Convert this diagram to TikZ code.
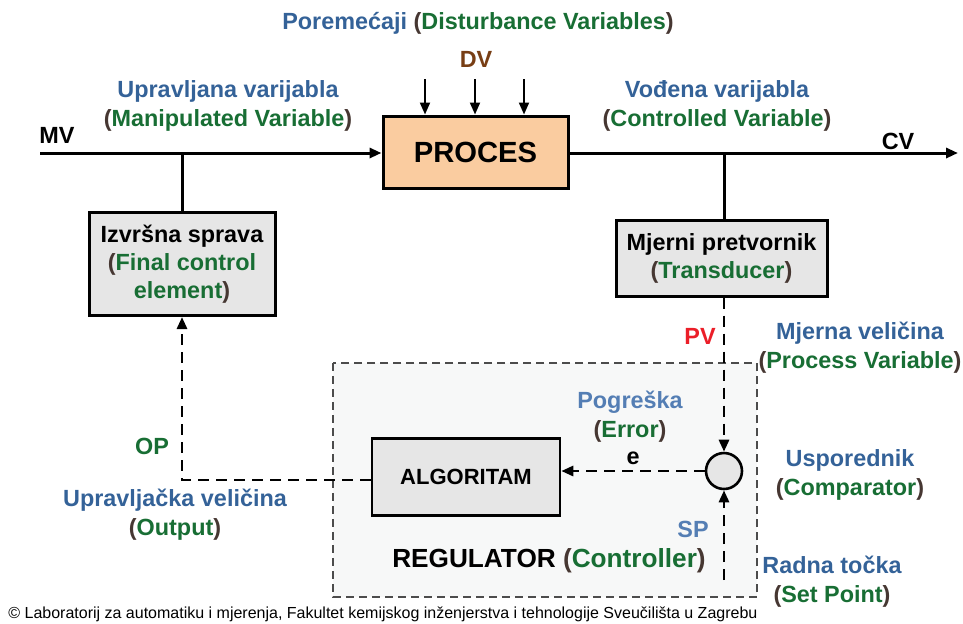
\documentclass[tikz,border=0pt]{standalone}
\usepackage{fontspec}
\setmainfont{Liberation Sans}
\usetikzlibrary{arrows.meta}
\definecolor{lblue}{RGB}{52,98,152}
\definecolor{pblue}{RGB}{84,126,180}
\definecolor{egreen}{RGB}{24,110,52}
\definecolor{pbrown}{RGB}{70,55,50}
\definecolor{dvbrown}{RGB}{120,62,20}
\definecolor{pvred}{RGB}{235,30,40}
\definecolor{procfill}{RGB}{250,204,160}
\definecolor{boxfill}{RGB}{230,230,230}
\definecolor{regfill}{RGB}{247,248,248}
\newcommand{\eng}[1]{\textcolor{pbrown}{(}\textcolor{egreen}{#1}\textcolor{pbrown}{)}}

\tikzset{
  lbl/.style={font=\fontsize{11.7}{14.5}\selectfont\bfseries, align=center, inner sep=1pt},
  block/.style={draw, line width=1.5pt, fill=boxfill, font=\fontsize{11.7}{14}\selectfont\bfseries, align=center, inner sep=1pt},
  mainline/.style={line width=1.5pt},
  sigline/.style={line width=1.4pt, dash pattern=on 5.5pt off 3.5pt},
  tip/.style={-{Triangle[length=6pt,width=5pt]}}
}

\begin{document}
\begin{tikzpicture}[x=0.5pt,y=-0.5pt]
  \useasboundingbox (0,0) rectangle (963,623);
  % Regulator area
  \draw[gray!60!black, line width=0.7pt, dash pattern=on 4pt off 2.5pt, fill=regfill] (333,363) rectangle (757,597);

  % Blocks
  \node[block, fill=procfill, minimum width=92.5pt, minimum height=36pt, font=\fontsize{14.6}{16}\selectfont\bfseries] (proc) at (475.5,152) {PROCES};
  \node[block, minimum width=93pt, minimum height=51.5pt] (izv) at (182,264) {Izvršna sprava\\\textcolor{pbrown}{(}\textcolor{egreen}{Final control}\\\textcolor{egreen}{element}\textcolor{pbrown}{)}};
  \node[block, minimum width=105.5pt, minimum height=38pt] (mjer) at (721.5,258) {Mjerni pretvornik\\\eng{Transducer}};
  \node[block, line width=1.3pt, minimum width=94pt, minimum height=38.5pt, font=\fontsize{11}{12}\selectfont\bfseries] (alg) at (466,477) {ALGORITAM};
  \node[draw, circle, line width=1.3pt, fill=boxfill, minimum size=18pt, inner sep=0pt] (comp) at (724,471) {};

  % Free ends and junctions
  \coordinate (mvin) at (40,153);
  \coordinate (cvout) at (958,153);
  \coordinate (mvj) at (182,153);
  \coordinate (cvj) at (724,153);
  \coordinate (spin) at (724,580);
  \coordinate (dv1) at (425,79);
  \coordinate (dv2) at (475,79);
  \coordinate (dv3) at (524,79);

  % Process lines
  \draw[mainline, tip] (mvin) -- (mvin -| proc.west);
  \draw[mainline, tip] (proc.east |- cvout) -- (cvout);
  \draw[mainline] (mvj) -- (izv.north);
  \draw[mainline] (cvj) -- (cvj |- mjer.north);
  \foreach \d in {dv1,dv2,dv3}
    \draw[line width=1pt, tip] (\d) -- (\d |- proc.north);

  % Signal lines
  \draw[sigline, tip] (comp.north |- mjer.south) -- (comp.north);
  \draw[sigline, tip] (spin) -- (comp.south);
  \draw[sigline, tip] (comp.west) -- (comp.west -| alg.east);
  \draw[sigline, tip] ([yshift=-1.5pt]alg.west) -| (izv.south);

  % Labels
  \node[lbl] (dist) at (478,23) {\textcolor{lblue}{Poremećaji} \eng{Disturbance Variables}};
  \node[lbl, text=dvbrown] (dv) at (476,59) {DV};
  \node[lbl] (mv) at (57,135) {MV};
  \node[lbl] (cv) at (898,141) {CV};
  \node[lbl] (manip) at (228,106) {\textcolor{lblue}{Upravljana varijabla}\\\eng{Manipulated Variable}};
  \node[lbl] (contr) at (717,106) {\textcolor{lblue}{Vođena varijabla}\\\eng{Controlled Variable}};
  \node[lbl, text=pvred] (pv) at (700,336) {PV};
  \node[lbl] (procvar) at (860,348) {\textcolor{lblue}{Mjerna veličina}\\\eng{Process Variable}};
  \node[lbl] (err) at (630,417) {\textcolor{pblue}{Pogreška}\\\eng{Error}};
  \node[lbl] (e) at (633,458) {e};
  \node[lbl, text=egreen] (op) at (152,446) {OP};
  \node[lbl] (outp) at (175,515) {\textcolor{lblue}{Upravljačka veličina}\\\eng{Output}};
  \node[lbl] (usp) at (850,475) {\textcolor{lblue}{Usporednik}\\\eng{Comparator}};
  \node[lbl, text=pblue] (sp) at (693,529) {SP};
  \node[lbl, font=\fontsize{13.1}{15}\selectfont\bfseries] (reg) at (549,561) {REGULATOR \eng{Controller}};
  \node[lbl] (setp) at (832,582) {\textcolor{lblue}{Radna točka}\\\eng{Set Point}};
  \node[anchor=west, inner sep=0pt, font=\fontsize{8}{9}\selectfont] (copy) at (8,614) {© Laboratorij za automatiku i mjerenja, Fakultet kemijskog inženjerstva i tehnologije Sveučilišta u Zagrebu};
\end{tikzpicture}
\end{document}
